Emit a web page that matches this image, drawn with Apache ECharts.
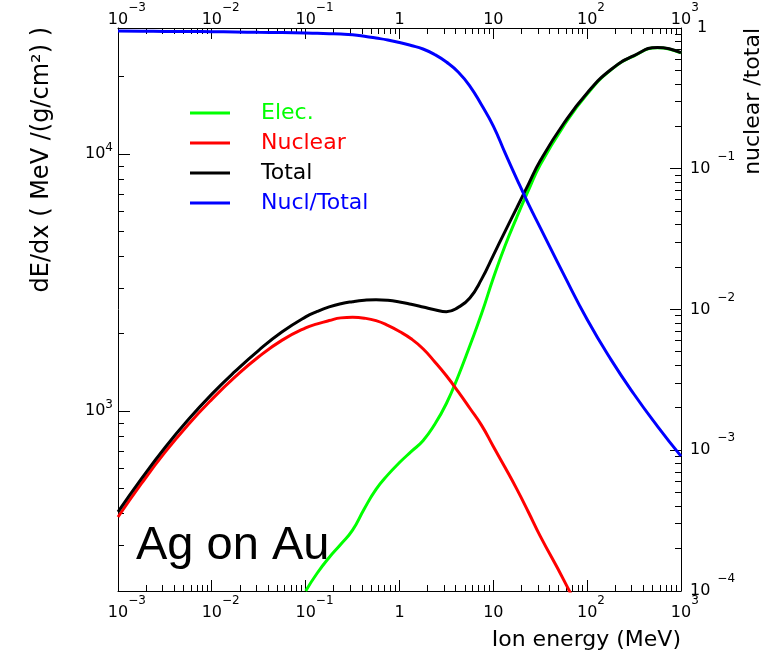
<!DOCTYPE html>
<html>
<head>
<meta charset="utf-8">
<title>Ag on Au stopping power</title>
<script src="https://cdn.jsdelivr.net/npm/echarts@6/dist/echarts.min.js"></script>
<style>
  html, body { margin: 0; padding: 0; background: #ffffff; }
  #chart { width: 763px; height: 655px; }
</style>
</head>
<body>
<div id="chart"></div>
<script>
// Ion energy grid (MeV)
const energy = [
  0.001, 0.00178, 0.00316, 0.00562, 0.01, 0.0178, 0.0316, 0.0562,
  0.1, 0.133, 0.178, 0.237, 0.316, 0.422, 0.562, 0.75,
  1, 1.33, 1.78, 2.37, 3.16, 4.22, 5.62, 7.5,
  10, 13.3, 17.8, 23.7, 31.6, 56.2, 100, 178, 316, 562, 1000
];

// Electronic stopping, MeV/(g/cm2)
const elec = [
  null, null, null, null, null, null, null, null,
  200, 235, 270, 304, 345, 418, 497, 566,
  632, 697, 769, 889, 1073, 1370, 1800, 2400,
  3300, 4400, 5700, 7250, 9110, 12900, 17150, 21250, 24170, 26000, 24800
];

// Nuclear stopping, MeV/(g/cm2)
const nuclear = [
  388, 524, 692, 889, 1113, 1364, 1631, 1893,
  2113, 2189, 2255, 2310, 2321, 2304, 2253, 2160,
  2044, 1915, 1752, 1560, 1375, 1193, 1028, 882,
  730, 606, 498, 405, 327, 221, 145, null, null, null, null
];

// Total stopping, MeV/(g/cm2)
const total = [
  406, 547, 722, 929, 1167, 1433, 1728, 2039,
  2331, 2448, 2548, 2622, 2671, 2705, 2719, 2705,
  2665, 2610, 2548, 2485, 2441, 2537, 2761, 3268,
  4046, 5004, 6197, 7658, 9437, 13175, 17330, 21320, 24220, 26050, 24850
];

// Nuclear / total fraction
const ratio = [
  0.952, 0.949, 0.946, 0.944, 0.941, 0.937, 0.932, 0.928,
  0.922, 0.917, 0.912, 0.906, 0.895, 0.874, 0.849, 0.822,
  0.789, 0.751, 0.709, 0.648, 0.573, 0.487, 0.387, 0.2836,
  0.2011, 0.1303, 0.0845, 0.0561, 0.0382, 0.01776, 0.00848, 0.00444, 0.0025, 0.00148, 0.000908
];

// Tick labels: mantissa and exponent
const xMajor = [0.001, 0.01, 0.1, 1, 10, 100, 1000];
const xBase  = ['10', '10', '10', '1', '10', '10', '10'];
const xExp   = ['−3', '−2', '−1', '', '', '2', '3'];

const yLeftMajor = [1000, 10000];
const yLeftBase  = ['10', '10'];
const yLeftExp   = ['3', '4'];

const yRightMajor = [0.0001, 0.001, 0.01, 0.1, 1];
const yRightBase  = ['10', '10', '10', '10', '1'];
const yRightExp   = ['−4', '−3', '−2', '−1', ''];

const seriesNames  = ['Elec.', 'Nuclear', 'Total', 'Nucl/Total'];
const seriesColors = ['#00ff00', '#ff0000', '#000000', '#0000ff'];

const FONT = 'DejaVu Sans';

// minor ticks at 2..9 times each decade
function decadeMinors(fromExp, toExp) {
  const out = [];
  for (let d = fromExp; d < toExp; d++) {
    for (let k = 2; k <= 9; k++) out.push(Number((k * Math.pow(10, d)).toPrecision(6)));
  }
  return out;
}
const xMinor = decadeMinors(-3, 3);
const yRightMinor = decadeMinors(-4, 0);
const yLeftMinor = decadeMinors(2, 5).filter(v => v > 200 && v < 31000);

function findIndex(list, v) {
  for (let i = 0; i < list.length; i++) {
    if (Math.abs(Math.log10(v) - Math.log10(list[i])) < 1e-6) return i;
  }
  return -1;
}

// "10" centred on the tick, exponent hanging to the right (balanced by a hidden copy on the left)
function xFormatter(v) {
  const i = findIndex(xMajor, v);
  if (i < 0) return '';
  if (!xExp[i]) return '{b|' + xBase[i] + '}';
  return '{p|' + xExp[i] + '}{b|' + xBase[i] + '}{e|' + xExp[i] + '}';
}
function yLeftFormatter(v) {
  const i = findIndex(yLeftMajor, v);
  if (i < 0) return '';
  return '{b|' + yLeftBase[i] + '}{e|' + yLeftExp[i] + '}';
}
function yRightFormatter(v) {
  const i = findIndex(yRightMajor, v);
  if (i < 0) return '';
  if (!yRightExp[i]) return '{c|' + yRightBase[i] + '}';
  return '{b|' + yRightBase[i] + '}{e|' + yRightExp[i] + '}';
}

const xRich = {
  b: { fontFamily: FONT, fontSize: 16, lineHeight: 16, color: '#000' },
  e: { fontFamily: FONT, fontSize: 12, lineHeight: 12, padding: [0, 0, 24, 0], color: '#000' },
  p: { fontFamily: FONT, fontSize: 12, lineHeight: 12, padding: [0, 0, 24, 0], color: 'rgba(0,0,0,0)' }
};
const yLeftRich = {
  b: { fontFamily: FONT, fontSize: 16, lineHeight: 16, color: '#000' },
  e: { fontFamily: FONT, fontSize: 12, lineHeight: 12, padding: [0, 0, 13, 0], color: '#000' }
};
const yRightRich = {
  b: { fontFamily: FONT, fontSize: 16, lineHeight: 16, color: '#000' },
  c: { fontFamily: FONT, fontSize: 16, lineHeight: 16, padding: [0, 0, 0, 7], color: '#000' },
  e: { fontFamily: FONT, fontSize: 12, lineHeight: 12, padding: [0, 0, 24, 7], color: '#000' }
};

function logAxis(position, min, max, labelValues, formatter, rich, margin) {
  return {
    type: 'log',
    min: min, max: max, position: position,
    splitLine: { show: false },
    axisLine: { show: true, onZero: false, lineStyle: { color: '#000', width: 1 } },
    axisTick: { show: false },
    axisLabel: { show: true, customValues: labelValues.slice(), formatter: formatter, rich: rich, margin: margin }
  };
}

const chart = echarts.init(document.getElementById('chart'), null, { renderer: 'canvas' });

const curves = [elec, nuclear, total, ratio].map((vals, s) => ({
  name: seriesNames[s],
  type: 'line',
  xAxisIndex: 0,
  yAxisIndex: s === 3 ? 1 : 0,
  data: energy.map((e, i) => [e, vals[i]]).filter(p => p[1] != null),
  showSymbol: false,
  symbol: 'none',
  smooth: 0.5,
  clip: true,
  lineStyle: { color: seriesColors[s], width: 3 },
  itemStyle: { color: seriesColors[s] }
}));

const texts = [
  {
    type: 'text', x: 136, y: 546, silent: true,
    style: { text: 'Ag on Au', font: '47px "Liberation Sans"', fill: '#000', align: 'left', verticalAlign: 'middle' }
  },
  {
    type: 'text', x: 681, y: 640, silent: true,
    style: { text: 'Ion energy (MeV)', font: '22px "DejaVu Sans"', fill: '#000', align: 'right', verticalAlign: 'middle' }
  },
  {
    type: 'text', x: 42, y: 27, rotation: Math.PI / 2, silent: true,
    style: { text: 'dE/dx ( MeV /(g/cm²) )', font: '24px "DejaVu Sans"', fill: '#000', align: 'right', verticalAlign: 'middle' }
  },
  {
    type: 'text', x: 753, y: 28, rotation: Math.PI / 2, silent: true,
    style: { text: 'nuclear /total', font: '22px "DejaVu Sans"', fill: '#000', align: 'right', verticalAlign: 'middle' }
  }
];

chart.setOption({
  animation: false,
  grid: { left: 118, right: 82, top: 28, bottom: 64 },
  xAxis: [
    logAxis('bottom', 0.001, 1000, xMajor, xFormatter, xRich, 14),
    logAxis('top', 0.001, 1000, xMajor, xFormatter, xRich, 0)
  ],
  yAxis: [
    logAxis('left', 200, 31000, yLeftMajor, yLeftFormatter, yLeftRich, 5),
    logAxis('right', 0.0001, 1, yRightMajor, yRightFormatter, yRightRich, 9)
  ],
  legend: {
    orient: 'vertical',
    left: 190,
    top: 102,
    padding: 0,
    itemGap: 8,
    itemWidth: 40,
    itemHeight: 3,
    icon: 'rect',
    selectedMode: false,
    formatter: name => '{t|' + name + '}',
    textStyle: {
      fontFamily: FONT, fontSize: 22, lineHeight: 20,
      rich: { t: { fontFamily: FONT, fontSize: 22, lineHeight: 20, padding: [0, 0, 0, 26] } }
    },
    data: seriesNames.map((n, i) => ({ name: n, textStyle: { color: seriesColors[i] } }))
  },
  graphic: texts,
  series: curves
});

// Inward frame ticks, positioned through the axis scales
const px = v => chart.convertToPixel({ xAxisIndex: 0 }, v);
const pyL = v => chart.convertToPixel({ yAxisIndex: 0 }, v);
const pyR = v => chart.convertToPixel({ yAxisIndex: 1 }, v);
const frameL = px(0.001), frameR = px(1000);
const frameT = pyL(31000), frameB = pyL(200);
const tickEls = [];

function addVertical(x, len) {
  if (!(x > frameL + 1 && x < frameR - 1)) return;
  const col = Math.round(x - 0.5);
  tickEls.push({ type: 'rect', silent: true, shape: { x: col, y: Math.round(frameB) - len, width: 1, height: len }, style: { fill: '#000' } });
  tickEls.push({ type: 'rect', silent: true, shape: { x: col, y: Math.round(frameT), width: 1, height: len }, style: { fill: '#000' } });
}
function addHorizontal(y, len, fromRight) {
  if (!(y > frameT + 1 && y < frameB - 1)) return;
  const row = Math.round(y - 0.5);
  const x0 = fromRight ? Math.round(frameR) - len : Math.round(frameL);
  tickEls.push({ type: 'rect', silent: true, shape: { x: x0, y: row, width: len, height: 1 }, style: { fill: '#000' } });
}

xMajor.forEach(v => addVertical(px(v), 11));
xMinor.forEach(v => addVertical(px(v), 6));
yLeftMajor.forEach(v => addHorizontal(pyL(v), 12, false));
yLeftMinor.forEach(v => addHorizontal(pyL(v), 6, false));
yRightMajor.forEach(v => addHorizontal(pyR(v), 11, true));
yRightMinor.forEach(v => addHorizontal(pyR(v), 6, true));

chart.setOption({ graphic: texts.concat(tickEls) });
</script>
</body>
</html>
